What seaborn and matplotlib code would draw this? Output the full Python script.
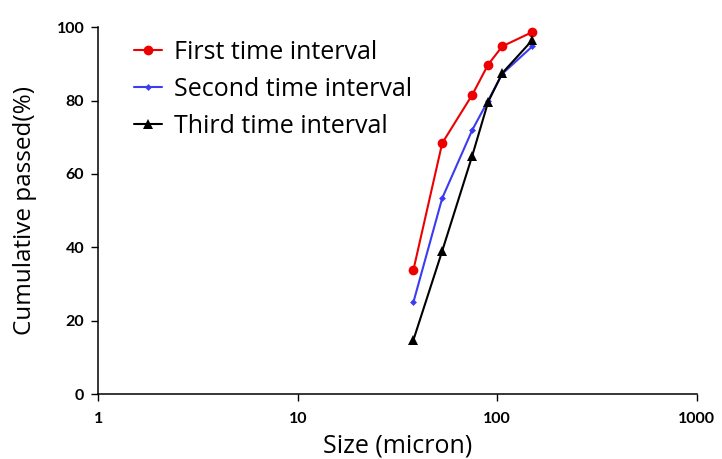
import pandas as pd
import seaborn as sns
import matplotlib.pyplot as plt

# sieve sizes (micron) and cumulative passing (%)
sizes = [38, 53, 75, 90, 106, 150]
first = [33.8, 68.4, 81.6, 89.8, 94.8, 98.7]
second = [25.0, 53.4, 72.0, 80.0, 87.3, 94.8]
third = [14.7, 39.0, 65.0, 79.6, 87.5, 96.5]
series_names = ['First time interval', 'Second time interval', 'Third time interval']

df = pd.DataFrame({
    'size': sizes * 3,
    'passed': first + second + third,
    'series': [n for n in series_names for _ in sizes],
})

sns.set_style('ticks')
plt.rcParams['font.family'] = ['Open Sans', 'DejaVu Sans']
plt.rcParams['text.color'] = 'black'
plt.rcParams['axes.labelcolor'] = 'black'

fig = plt.figure(figsize=(7.22, 4.59), dpi=100)
ax = fig.add_axes([0.136, 0.1416, 0.829, 0.799])

palette = {series_names[0]: '#ee0000', series_names[1]: '#3b3bf2', series_names[2]: '#000000'}
markers = {series_names[0]: 'o', series_names[1]: 'D', series_names[2]: '^'}
sizes_m = {series_names[0]: 7, series_names[1]: 3.5, series_names[2]: 6.5}

for name in series_names:
    sub = df[df['series'] == name]
    sns.lineplot(data=sub, x='size', y='passed', ax=ax, color=palette[name],
                 marker=markers[name], markersize=sizes_m[name],
                 markeredgewidth=0, linewidth=1.5, label=name)

ax.set_xscale('log')
ax.set_xlim(1, 1000)
ax.set_ylim(0, 100)
ax.set_xticks([1, 10, 100, 1000])
ax.set_xticklabels(['1', '10', '100', '1000'])
ax.set_yticks([0, 20, 40, 60, 80, 100])
ax.minorticks_off()
ax.tick_params(axis='both', length=5, width=1, colors='black', labelsize=11.5)
ax.tick_params(axis='x', pad=8)
ax.tick_params(axis='y', pad=5)
for lab in ax.get_xticklabels() + ax.get_yticklabels():
    lab.set_fontweight('bold')
    lab.set_family(['Lato', 'DejaVu Sans'])

for s in ['top', 'right']:
    ax.spines[s].set_visible(False)
for s in ['left', 'bottom']:
    ax.spines[s].set_linewidth(1.1)
    ax.spines[s].set_color('black')

ax.set_xlabel('Size (micron)', fontsize=18, labelpad=5)
ax.set_ylabel('Cumulative passed(%)', fontsize=17.5, labelpad=14)

leg = ax.legend(loc='upper left', bbox_to_anchor=(0.06, 0.966), frameon=False,
                fontsize=18, handlelength=1.1, handletextpad=0.5,
                labelspacing=0.48, borderaxespad=0, borderpad=0)

fig.savefig('out.png', dpi=100)
